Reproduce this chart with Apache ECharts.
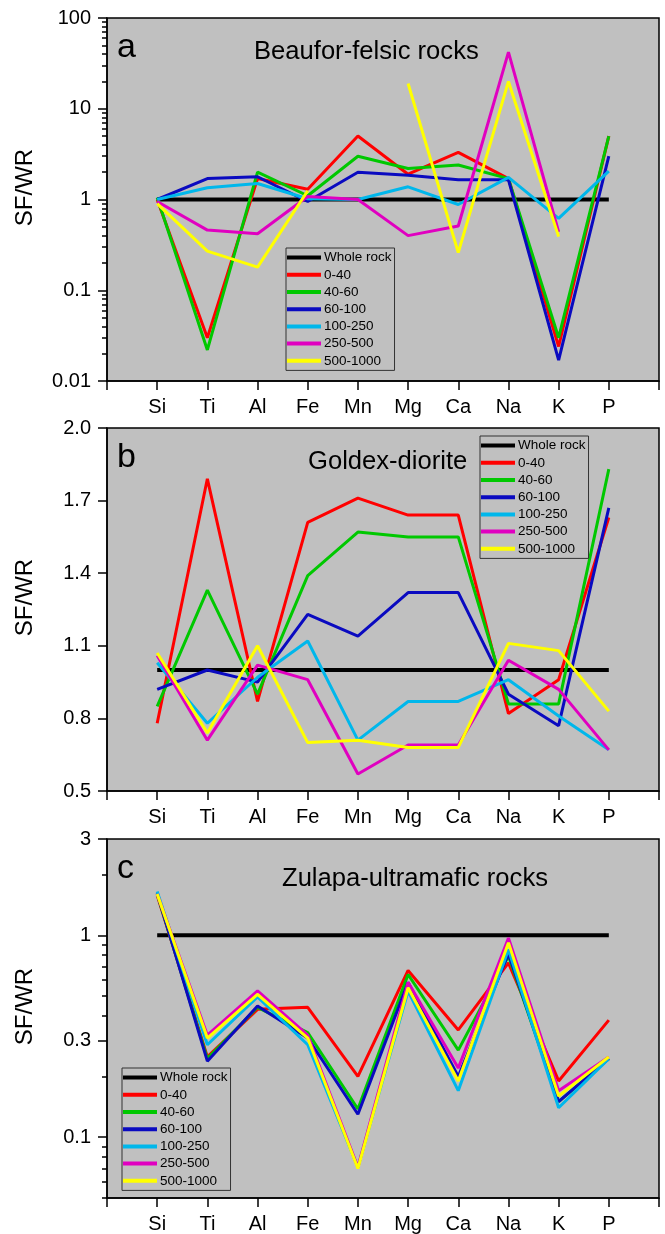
<!DOCTYPE html>
<html>
<head>
    <meta charset="utf-8">
    <title>SF/WR</title>
    <style>
        body {
            margin: 0;
            background: #fff;
        }

        #ec {
            width: 665px;
            height: 1234px;
        }
    </style>
</head>
<body>
    <div id="ec"></div>
    <script src="https://cdn.jsdelivr.net/npm/echarts@6/dist/echarts.min.js"></script>
    <script>
        // elements on the x axis
        var elements = ['Si', 'Ti', 'Al', 'Fe', 'Mn', 'Mg', 'Ca', 'Na', 'K', 'P'];
        var fractions = ['Whole rock', '0-40', '40-60', '60-100', '100-250', '250-500', '500-1000'];
        var colors = ['#000000', '#ff0000', '#00c800', '#0a0ac0', '#00b7eb', '#e000c0', '#ffff00'];

        var wholeRock = [1, 1, 1, 1, 1, 1, 1, 1, 1, 1];

        // a - Beaufor-felsic rocks
        var a_0_40 = [1.0, 0.030, 1.7, 1.3, 5.0, 1.9, 3.3, 1.7, 0.024, 5.0];
        var a_40_60 = [1.05, 0.022, 2.0, 1.1, 3.0, 2.2, 2.4, 1.7, 0.030, 5.0];
        var a_60_100 = [1.0, 1.7, 1.78, 0.95, 2.0, 1.85, 1.65, 1.65, 0.017, 3.0];
        var a_100_250 = [1.0, 1.35, 1.5, 1.02, 1.0, 1.38, 0.88, 1.75, 0.62, 2.05];
        var a_250_500 = [0.95, 0.46, 0.42, 1.08, 1.0, 0.40, 0.51, 42, 0.44, null];
        var a_500_1000 = [0.9, 0.27, 0.18, 1.25, null, 19, 0.26, 20, 0.39, null];

        // b - Goldex-diorite
        var b_0_40 = [0.78, 1.79, 0.87, 1.61, 1.71, 1.64, 1.64, 0.82, 0.96, 1.63];
        var b_40_60 = [0.85, 1.33, 0.90, 1.39, 1.57, 1.55, 1.55, 0.86, 0.86, 1.83];
        var b_60_100 = [0.92, 1.00, 0.95, 1.23, 1.14, 1.32, 1.32, 0.90, 0.77, 1.67];
        var b_100_250 = [1.03, 0.78, 0.97, 1.12, 0.71, 0.87, 0.87, 0.96, 0.81, 0.67];
        var b_250_500 = [1.06, 0.71, 1.02, 0.96, 0.57, 0.69, 0.69, 1.04, 0.92, 0.67];
        var b_500_1000 = [1.07, 0.74, 1.10, 0.70, 0.71, 0.68, 0.68, 1.11, 1.08, 0.83];

        // c - Zulapa-ultramafic rocks
        var c_0_40 = [1.58, 0.25, 0.43, 0.44, 0.20, 0.67, 0.34, 0.73, 0.19, 0.38];
        var c_40_60 = [1.6, 0.245, 0.44, 0.33, 0.138, 0.64, 0.27, 0.79, 0.15, 0.245];
        var c_60_100 = [1.62, 0.238, 0.447, 0.31, 0.13, 0.585, 0.20, 0.81, 0.15, 0.245];
        var c_100_250 = [1.65, 0.287, 0.495, 0.287, 0.071, 0.53, 0.17, 0.85, 0.14, 0.245];
        var c_250_500 = [1.6, 0.32, 0.53, 0.32, 0.071, 0.585, 0.22, 0.97, 0.17, 0.25];
        var c_500_1000 = [1.6, 0.31, 0.51, 0.31, 0.07, 0.55, 0.19, 0.92, 0.16, 0.25];

        // tick values
        var aTicks = [0.01, 0.1, 1, 10, 100];
        var aMinor = [0.02, 0.03, 0.04, 0.05, 0.06, 0.07, 0.08, 0.09,
            0.2, 0.3, 0.4, 0.5, 0.6, 0.7, 0.8, 0.9,
            2, 3, 4, 5, 6, 7, 8, 9,
            20, 30, 40, 50, 60, 70, 80, 90];
        var bTicks = [0.5, 0.8, 1.1, 1.4, 1.7, 2.0];
        var cTicks = [0.1, 0.3, 1, 3];
        var cMinor = [0.05, 0.06, 0.07, 0.08, 0.09, 0.2, 0.4, 0.5, 0.6, 0.7, 0.8, 0.9, 2];

        (function() {
            'use strict';

            var FONT = '"Liberation Sans", Arial, sans-serif';
            var panels = [
                {top: 18, lines: [wholeRock, a_0_40, a_40_60, a_60_100, a_100_250, a_250_500, a_500_1000]},
                {top: 428, lines: [wholeRock, b_0_40, b_40_60, b_60_100, b_100_250, b_250_500, b_500_1000]},
                {top: 839, lines: [wholeRock, c_0_40, c_40_60, c_60_100, c_100_250, c_250_500, c_500_1000]}
            ];

            var axisLine = {show: true, lineStyle: {color: '#000', width: 1.5}};
            var tickStyle = {color: '#000', width: 1.5};
            var labelStyle = {color: '#000', fontSize: 20, fontFamily: FONT, margin: 16};

            function logLabel(v) {
                return String(+Number(v).toPrecision(4));
            }

            var grids = panels.map(function(p) {
                return {
                    left: 107, right: 6, top: p.top, height: 363,
                    show: true, backgroundColor: '#c0c0c0',
                    borderColor: '#000', borderWidth: 1.5
                };
            });

            var xAxes = panels.map(function(p, i) {
                return {
                    gridIndex: i, type: 'value', min: 0, max: 11, interval: 1,
                    axisLine: axisLine,
                    axisTick: {show: true, inside: false, length: 9, lineStyle: tickStyle},
                    axisLabel: Object.assign({}, labelStyle, {
                        margin: 16,
                        formatter: function(v) { return elements[v - 1] || ''; }
                    }),
                    splitLine: {show: false}
                };
            });

            function yMain(i, type, min, max, ticks, fmt) {
                return {
                    gridIndex: i, type: type, min: min, max: max, position: 'left',
                    name: 'SF/WR', nameLocation: 'middle', nameGap: 70,
                    nameTextStyle: {fontSize: 24, fontFamily: FONT, color: '#000', padding: [0, 0, 0, 24]},
                    axisLine: axisLine,
                    axisTick: {show: true, inside: false, length: 9, lineStyle: tickStyle, customValues: ticks},
                    axisLabel: Object.assign({}, labelStyle, {customValues: ticks, formatter: fmt}),
                    splitLine: {show: false}
                };
            }

            function yMinor(i, min, max, ticks) {
                return {
                    gridIndex: i, type: 'log', min: min, max: max, position: 'left', offset: 0,
                    axisLine: {show: false},
                    axisTick: {show: true, inside: false, length: 5, lineStyle: tickStyle, customValues: ticks},
                    axisLabel: {show: false},
                    splitLine: {show: false}
                };
            }

            var yAxes = [
                yMain(0, 'log', 0.01, 100, aTicks, logLabel),
                yMinor(0, 0.01, 100, aMinor),
                yMain(1, 'value', 0.5, 2.0, bTicks, function(v) { return Number(v).toFixed(1); }),
                yMain(2, 'log', 0.05, 3, cTicks, logLabel),
                yMinor(2, 0.05, 3, cMinor)
            ];
            var yIndex = [0, 2, 3];

            var series = [];
            panels.forEach(function(p, pi) {
                p.lines.forEach(function(vals, k) {
                    series.push({
                        name: fractions[k],
                        type: 'line',
                        xAxisIndex: pi,
                        yAxisIndex: yIndex[pi],
                        showSymbol: false,
                        symbol: 'none',
                        color: colors[k],
                        lineStyle: {color: colors[k], width: k === 0 ? 4 : 3},
                        data: elements.map(function(e, j) { return [j + 1, vals[j]]; })
                    });
                });
            });

            function legend(left, top) {
                return {
                    orient: 'vertical', left: left, top: top,
                    padding: [1, 3, 1, 1], itemGap: 0,
                    itemWidth: 34, itemHeight: 4, icon: 'rect',
                    borderColor: '#333', borderWidth: 1,
                    selectedMode: false,
                    textStyle: {color: '#000', fontSize: 13.5, fontFamily: FONT, lineHeight: 17.2, padding: [0, 0, 0, -2]},
                    data: fractions
                };
            }

            function title(text, left, top, size) {
                return {
                    text: text, left: left, top: top, padding: 0,
                    textStyle: {color: '#000', fontSize: size, fontWeight: 'normal', fontFamily: FONT}
                };
            }

            var chart = echarts.init(document.getElementById('ec'));
            chart.setOption({
                animation: false,
                backgroundColor: '#fff',
                title: [
                    title('a', 117, 31, 34),
                    title('Beaufor-felsic rocks', 254, 39, 25.6),
                    title('b', 117, 441, 34),
                    title('Goldex-diorite', 308, 449, 25.6),
                    title('c', 117, 852, 34),
                    title('Zulapa-ultramafic rocks', 282, 866, 25.6)
                ],
                legend: [legend(286, 248), legend(480, 436), legend(122, 1068)],
                grid: grids,
                xAxis: xAxes,
                yAxis: yAxes,
                series: series
            });
        }());
    </script>
</body>
</html>
